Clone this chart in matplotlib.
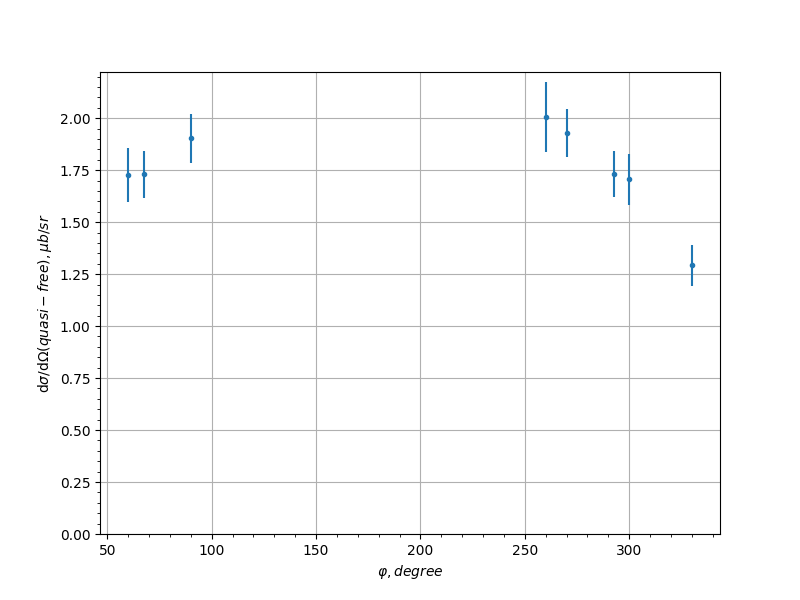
import matplotlib
matplotlib.use('Agg')
import matplotlib.pyplot as plt
import numpy as np

phi = [60, 67.5, 90, 260, 270, 292.5, 300, 330]
xsec = [1.725, 1.730, 1.904, 2.005, 1.928, 1.730, 1.706, 1.292]
err = [0.130, 0.112, 0.118, 0.168, 0.115, 0.110, 0.122, 0.100]

fig = plt.figure(figsize=(8, 6), dpi=100)
plt.errorbar(phi, xsec, yerr=err, fmt='.')
plt.ylim(bottom=0)
plt.minorticks_on()
plt.grid(which='major')
plt.xlabel(r'$\varphi, degree$')
plt.ylabel(r'd$\sigma$/d$\Omega(quasi-free), \mu b/sr$')
plt.savefig('out.png')
